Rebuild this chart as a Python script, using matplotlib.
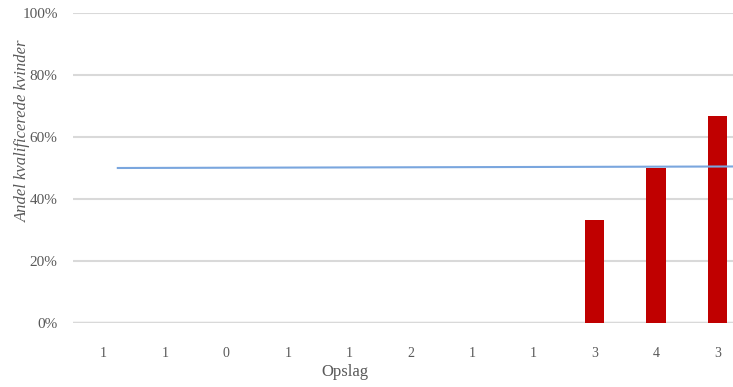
import matplotlib.pyplot as plt

# kategorier (antal opslag) og andel kvalificerede kvinder
categories = ["1", "1", "0", "1", "1", "2", "1", "1", "3", "4", "3"]
shares = [0, 0, 0, 0, 0, 0, 0, 0, 1 / 3, 0.5, 2 / 3]

# referencelinje (ca. 50%)
ref_x = [0.23, 10.5]
ref_y = [0.500, 0.505]

yticks = [0, 0.2, 0.4, 0.6, 0.8, 1.0]
ytick_labels = ["0%", "20%", "40%", "60%", "80%", "100%"]

grey = "#595959"
plt.rcParams["font.family"] = ["Liberation Serif", "DejaVu Serif"]

fig = plt.figure(figsize=(7.33, 3.87), dpi=100)
ax = fig.add_axes([0.0996, 0.1654, 0.921, 0.801])

x = list(range(len(categories)))
ax.bar(x, shares, width=0.32, color="#c00000", zorder=3)
ax.plot(ref_x, ref_y, color="#7aa6de", linewidth=1.5, zorder=4)

ax.set_xlim(-0.5, len(categories) - 0.5)
ax.set_ylim(0, 1)
ax.set_yticks(yticks)
ax.set_yticklabels(ytick_labels, color=grey, fontsize=11)
ax.set_xticks(x)
ax.set_xticklabels(categories, color=grey, fontsize=10)
ax.tick_params(axis="both", length=0)
ax.tick_params(axis="x", pad=17)
ax.tick_params(axis="y", pad=11)

ax.grid(axis="y", color="#d9d9d9", linewidth=1.5, zorder=0)
ax.set_axisbelow(True)
for s in ax.spines.values():
    s.set_visible(False)
ax.axhline(0, color="#d9d9d9", linewidth=2.5, zorder=2)

fig.text(0.031, 0.662, "Andel kvalificerede kvinder", rotation=90,
         ha="center", va="center", color=grey, fontsize=12, style="italic")
fig.text(0.471, 0.038, "Opslag", ha="center", va="center", color=grey,
         fontsize=12)

fig.savefig("out.png", dpi=100)
